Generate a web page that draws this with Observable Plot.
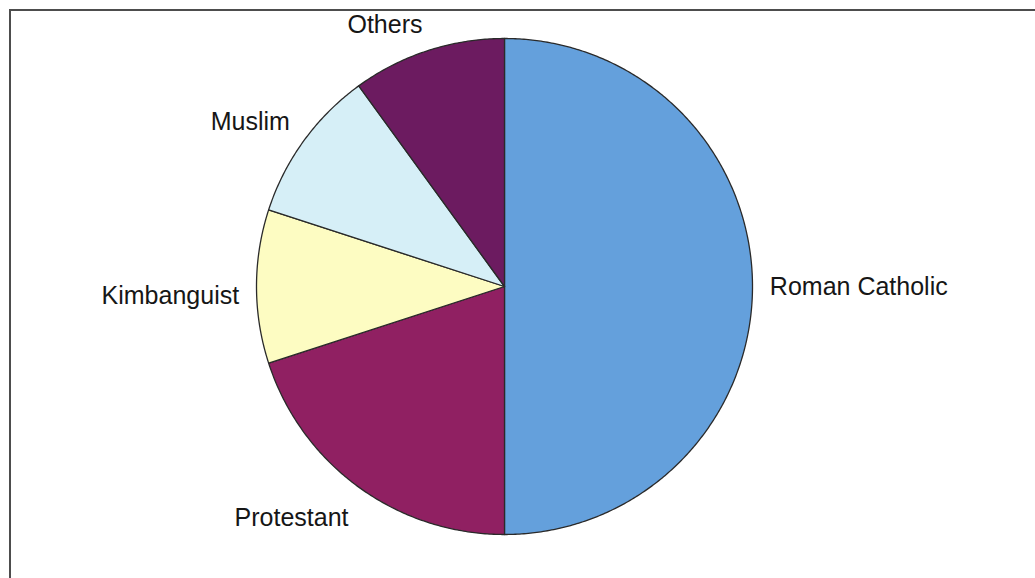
<!DOCTYPE html>
<html>
<head>
<meta charset="utf-8">
<script src="https://cdn.jsdelivr.net/npm/d3@7"></script>
<script src="https://cdn.jsdelivr.net/npm/@observablehq/plot@0.6"></script>
<style>
  html, body { margin: 0; padding: 0; background: #ffffff; }
  #wrap { position: relative; width: 1035px; height: 578px; overflow: hidden; }
  #border { position: absolute; left: 9px; top: 9px; width: 1100px; height: 700px;
            border-top: 2px solid #4d4d4d; border-left: 2px solid #4d4d4d; pointer-events: none; }
</style>
</head>
<body>
<div id="wrap"><div id="border"></div></div>
<script>
// Data
const categories = ["Roman Catholic", "Protestant", "Kimbanguist", "Muslim", "Others"];
const shares = [50, 20, 10, 10, 10];
const colors = ["#64a0dc", "#902062", "#fdfcc2", "#d6eff7", "#6c1b60"];

// Layout constants
const W = 1035, H = 578;
const cx = 504, cy = 286, R = 248;
const labelR = 1.07;
const groupDy = {"start|middle": 0, "end|middle": 9, "end|top": 7, "end|bottom": -1};

// Pie geometry in unit-circle space (angles clockwise from top)
const pie = d3.pie().sort(null).value(d => d.value);
const arcs = pie(categories.map((name, i) => ({name, value: shares[i]})));

const wedgePts = [];
arcs.forEach(a => {
  const name = a.data.name;
  wedgePts.push({name, x: 0, y: 0});
  const n = Math.max(4, Math.ceil((a.endAngle - a.startAngle) / (Math.PI / 360)));
  for (let k = 0; k <= n; k++) {
    const t = a.startAngle + (a.endAngle - a.startAngle) * k / n;
    wedgePts.push({name, x: Math.sin(t), y: -Math.cos(t)});
  }
});

const labels = arcs.map(a => {
  const m = (a.startAngle + a.endAngle) / 2;
  const sx = Math.sin(m), sy = -Math.cos(m);
  const ta = Math.abs(sx) < 1e-6 ? "middle" : (sx > 0 ? "start" : "end");
  const la = Math.abs(sy) < 1e-6 ? "middle" : (sy > 0 ? "top" : "bottom");
  return {name: a.data.name, x: sx * labelR, y: sy * labelR, ta, la};
});
const groups = d3.groups(labels, d => d.ta + "|" + d.la);

const textMarks = groups.map(([key, rows]) => {
  const [ta, la] = key.split("|");
  return Plot.text(rows, {
    x: "x", y: "y", text: "name",
    textAnchor: ta, lineAnchor: la, dy: groupDy[key] || 0,
    fontSize: 25, fill: "#161616",
    fontFamily: "'Liberation Sans', Arial, Helvetica, sans-serif"
  });
});

const chart = Plot.plot({
  width: W, height: H,
  margin: 0,
  style: {background: "transparent", overflow: "visible"},
  x: {domain: [-1, 1], range: [cx - R, cx + R], axis: null},
  y: {domain: [-1, 1], range: [cy - R, cy + R], axis: null},
  color: {domain: categories, range: colors},
  marks: [
    Plot.line(wedgePts, {
      x: "x", y: "y", z: "name", fill: "name",
      stroke: "#2a2a2a", strokeWidth: 1.3, curve: "linear-closed", strokeLinejoin: "round"
    }),
    ...textMarks
  ]
});
chart.style.position = "absolute";
chart.style.left = "0px";
chart.style.top = "0px";
document.getElementById("wrap").insertBefore(chart, document.getElementById("border"));
</script>
</body>
</html>
